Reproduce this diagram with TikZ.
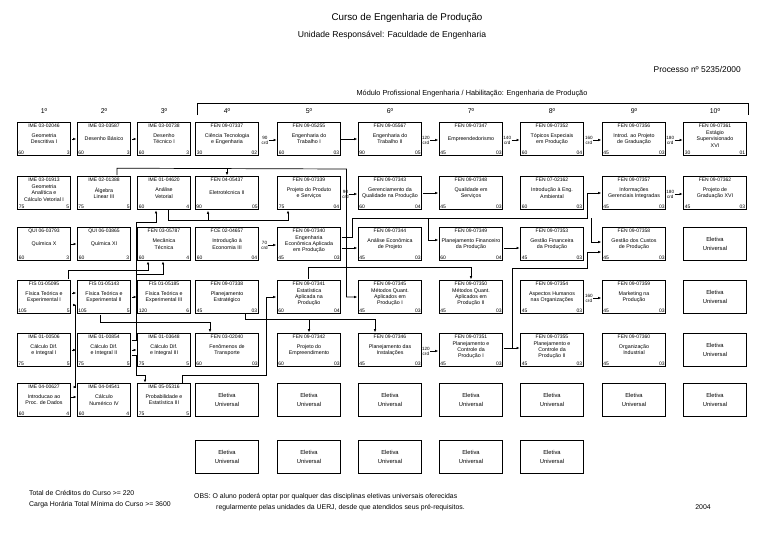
\documentclass[tikz,border=0pt]{standalone}
\usepackage{fontspec}
\setmainfont{Liberation Sans}
\usetikzlibrary{positioning,arrows.meta,calc}

% one course box: [style] name, position, code, title, hours, credits
\newcommand{\disc}[7][]{%
  \node[disc,#1] (#2) at (#3) {#5};
  \node[kode] at (#2.north) {#4};
  \node[hrs] at (#2.south west) {#6};
  \node[crd] at (#2.south east) {#7};}
% short arrow with the credit requirement
\newcommand{\crdstub}[2]{%
  \coordinate (#1-c) at ($(#1.west)+(-8.5,-1)$);
  \coordinate (#1-e) at ($(#1.west)+(-0.5,-1)$);
  \draw[dep] (#1-c) -- (#1-e);
  \node[cred] at (#1-c) {#2\\crd};}

\begin{document}
\begin{tikzpicture}[x=1pt, y=1pt,
  disc/.style={draw, line width=0.8pt, minimum width=63pt, minimum height=33pt,
    inner sep=0pt, align=center, font=\fontsize{5.3}{6.2}\selectfont},
  narrow/.style={minimum width=53pt},
  bold/.style={line width=1.6pt},
  kode/.style={anchor=north, inner sep=1.8pt, font=\fontsize{5}{6}\selectfont},
  hrs/.style={anchor=south west, inner sep=1.5pt, font=\fontsize{5}{6}\selectfont},
  crd/.style={anchor=south east, inner sep=1.5pt, font=\fontsize{5}{6}\selectfont},
  elet/.style={draw, line width=0.8pt, minimum width=63pt, minimum height=33pt,
    align=center, font=\fontsize{5.8}{8.5}\selectfont},
  cred/.style={anchor=east, inner sep=0.3pt, align=center, font=\fontsize{4.6}{5}\selectfont},
  dep/.style={-{Latex[length=3pt, width=2.6pt]}, line width=0.7pt},
  txt/.style={font=\fontsize{6.9}{11}\selectfont, inner sep=0pt}
]
\useasboundingbox (0,0) rectangle (768,-543);

% titles
\node[font=\fontsize{9.8}{12}\selectfont] (titulo) at (407,-18) {Curso de Engenharia de Produção};
\node[font=\fontsize{8.6}{12}\selectfont] (unidade) at (392,-35) {Unidade Responsável: Faculdade de Engenharia};
\node[txt, anchor=east, font=\fontsize{8.4}{9}\selectfont] (processo) at (741,-69) {Processo nº 5235/2000};
\node[txt, font=\fontsize{7.3}{9}\selectfont] (modulo) at (472,-94) {Módulo Profissional Engenharia / Habilitação: Engenharia de Produção};

% row 1
\disc[narrow,bold]{geodesc}{44,-139}{IME 03-02046}{Geometria\\Descritiva I}{60}{3}
\disc[narrow,bold]{desbas}{104,-139}{IME 03-03587}{Desenho Básico}{60}{3}
\disc[narrow]{destec}{164,-139}{IME 03-00738}{Desenho\\Técnico I}{60}{3}
\disc{cte}{227,-139}{FEN 09-07337}{Ciência Tecnologia\\e Engenharia}{30}{02}
\disc{trab1}{309,-139}{FEN 09-05255}{Engenharia do\\Trabalho I}{60}{03}
\disc[bold]{trab2}{390,-139}{FEN 09-05567}{Engenharia do\\Trabalho II}{90}{05}
\disc[bold]{empre}{471,-139}{FEN 09-07347}{Empreendedorismo}{45}{03}
\disc{topicos}{552,-139}{FEN 09-07352}{Tópicos Especiais\\em Produção}{60}{04}
\disc[bold]{introproj}{634,-139}{FEN 09-07356}{Introd. ao Projeto\\de Graduação}{45}{03}
\disc{estagio}{715,-139}{FEN 09-07361}{Estágio\\Supervisionado\\XVI}{30}{01}

% row 2
\disc[narrow]{geoana}{44,-193}{IME 03-01913}{Geometria\\Analítica e\\Cálculo Vetorial I}{75}{5}
\disc[narrow,bold]{alglin}{104,-193}{IME 02-01388}{Álgebra\\Linear III}{75}{5}
\disc[narrow]{anvet}{164,-193}{IME 01-04620}{Análise\\Vetorial}{60}{4}
\disc[bold]{eletro}{227,-193}{FEN 04-05437}{Eletrotécnica II}{90}{05}
\disc{projprod}{309,-193}{FEN 09-07339}{Projeto do Produto\\e Serviços}{75}{04}
\disc[bold]{gerqual}{390,-193}{FEN 09-07343}{Gerenciamento da\\Qualidade na Produção}{60}{04}
\disc[bold]{qualserv}{471,-193}{FEN 09-07348}{Qualidade em\\Serviços}{45}{03}
\disc{ambiental}{552,-193}{FEN 07-02162}{Introdução à Eng.\\Ambiental}{60}{03}
\disc[bold]{infoger}{634,-193}{FEN 09-07357}{Informações\\Gerenciais Integradas}{45}{03}
\disc{projgrad}{715,-193}{FEN 09-07362}{Projeto de\\Graduação XVI}{45}{03}

% row 3
\disc[narrow]{quim10}{44,-244}{QUI 06-03793}{Química X}{60}{3}
\disc[narrow]{quim11}{104,-244}{QUI 06-03865}{Química XI}{60}{3}
\disc[narrow]{mectec}{164,-244}{FEN 03-05787}{Mecânica\\Técnica}{60}{4}
\disc{economia}{227,-244}{FCE 02-04657}{Introdução à\\Economia III}{60}{04}
\disc[bold]{engecon}{309,-244}{FEN 09-07340}{Engenharia\\Econômica Aplicada\\em Produção}{45}{03}
\disc[bold]{anecon}{390,-244}{FEN 09-07344}{Análise Econômica\\de Projeto}{45}{03}
\disc[bold]{planfin}{471,-244}{FEN 09-07349}{Planejamento Financeiro\\da Produção}{60}{04}
\disc{gesfin}{552,-244}{FEN 09-07353}{Gestão Financeira\\da Produção}{45}{03}
\disc[bold]{custos}{634,-244}{FEN 09-07358}{Gestão dos Custos\\de Produção}{45}{03}

% row 4
\disc[narrow,bold]{fis1}{44,-297}{FIS 01-05095}{Física Teórica e\\Experimental I}{105}{5}
\disc[narrow,bold]{fis2}{104,-297}{FIS 01-05143}{Física Teórica e\\Experimental II}{105}{5}
\disc[narrow]{fis3}{164,-297}{FIS 01-05185}{Física Teórica e\\Experimental III}{120}{6}
\disc{planest}{227,-297}{FEN 09-07338}{Planejamento\\Estratégico}{45}{03}
\disc[bold]{estat}{309,-297}{FEN 09-07341}{Estatística\\Aplicada na\\Produção}{60}{04}
\disc[bold]{mq1}{390,-297}{FEN 09-07345}{Métodos Quant.\\Aplicados em\\Produção I}{45}{03}
\disc[bold]{mq2}{471,-297}{FEN 09-07350}{Métodos Quant.\\Aplicados em\\Produção II}{45}{03}
\disc{humanos}{552,-297}{FEN 09-07354}{Aspectos Humanos\\nas Organizações}{45}{03}
\disc[bold]{marketing}{634,-297}{FEN 09-07359}{Marketing na\\Produção}{45}{03}

% row 5
\disc[narrow,bold]{calc1}{44,-350}{IME 01-00506}{Cálculo Dif.\\e Integral I}{75}{5}
\disc[narrow,bold]{calc2}{104,-350}{IME 01-00854}{Cálculo Dif.\\e Integral II}{75}{5}
\disc[narrow]{calc3}{164,-350}{IME 01-03648}{Cálculo Dif.\\e Integral III}{75}{5}
\disc[bold]{fentrans}{227,-350}{FEN 03-02040}{Fenômenos de\\Transporte}{60}{03}
\disc[bold]{projemp}{309,-350}{FEN 09-07342}{Projeto do\\Empreendimento}{60}{03}
\disc[bold]{instal}{390,-350}{FEN 09-07346}{Planejamento das\\Instalações}{45}{03}
\disc[bold]{pcp1}{471,-350}{FEN 09-07351}{Planejamento e\\Controle da\\Produção I}{45}{03}
\disc{pcp2}{552,-350}{FEN 09-07355}{Planejamento e\\Controle da\\Produção II}{45}{03}
\disc[bold]{orgind}{634,-350}{FEN 09-07360}{Organização\\Industrial}{45}{03}

% row 6
\disc[narrow]{procdados}{44,-400}{IME 04-00627}{Introducao ao\\Proc. de Dados}{60}{4}
\disc[narrow]{calcnum}{104,-400}{IME 04-04541}{Cálculo\\Numérico IV}{60}{4}
\disc[narrow]{probest}{164,-400}{IME 05-05316}{Probabilidade e\\Estatística III}{75}{5}

% electives
\node[elet, bold] (elet1) at (715,-244) {Eletiva\\Universal};
\node[elet, bold] (elet2) at (715,-297) {Eletiva\\Universal};
\node[elet, bold] (elet3) at (715,-350) {Eletiva\\Universal};
\node[elet, bold] (elet4) at (227,-400) {Eletiva\\Universal};
\node[elet] (elet5) at (309,-400) {Eletiva\\Universal};
\node[elet, bold] (elet6) at (390,-400) {Eletiva\\Universal};
\node[elet] (elet7) at (471,-400) {Eletiva\\Universal};
\node[elet] (elet8) at (552,-400) {Eletiva\\Universal};
\node[elet] (elet9) at (634,-400) {Eletiva\\Universal};
\node[elet, bold] (elet10) at (715,-400) {Eletiva\\Universal};
\node[elet, bold] (elet11) at (227,-457) {Eletiva\\Universal};
\node[elet] (elet12) at (309,-457) {Eletiva\\Universal};
\node[elet, bold] (elet13) at (390,-457) {Eletiva\\Universal};
\node[elet, bold] (elet14) at (471,-457) {Eletiva\\Universal};
\node[elet, bold] (elet15) at (552,-457) {Eletiva\\Universal};

% direct prerequisites
\draw[dep] ([xshift=0.5pt]geodesc.east) -- ([xshift=-0.5pt]desbas.west);
\draw[dep] ([xshift=0.5pt]desbas.east) -- ([xshift=-0.5pt]destec.west);
\draw[dep] ([xshift=0.5pt]trab1.east) -- ([xshift=-0.5pt]trab2.west);
\draw[dep] ([xshift=0.5pt]gerqual.east) -- ([xshift=-0.5pt]qualserv.west);
\draw[dep] ([xshift=0.5pt]quim10.east) -- ([xshift=-0.5pt]quim11.west);
\draw[dep] ([xshift=0.5pt]fis2.east) -- ([xshift=-0.5pt]fis3.west);
\draw[dep] ([xshift=0.5pt]calc1.east) -- ([xshift=-0.5pt]calc2.west);
\draw[dep] ([xshift=0.5pt]calc2.east) -- ([xshift=-0.5pt]calc3.west);
\draw[dep] ([xshift=0.5pt,yshift=4pt]fis1.east) -- ([xshift=-0.5pt,yshift=4pt]fis2.west);
\draw[dep] ([xshift=0.5pt,yshift=3pt]procdados.east) -- ([xshift=-0.5pt,yshift=3pt]calcnum.west);
\draw[dep] ([xshift=0.5pt,yshift=-4pt]engecon.east) -- ([xshift=-0.5pt,yshift=-4pt]anecon.west);
\draw[dep] ([xshift=0.5pt,yshift=-4pt]planfin.east) -- ([xshift=-0.5pt,yshift=-4pt]gesfin.west);
\draw[dep] ([xshift=0.5pt,yshift=2pt]pcp1.east) -- ([xshift=-0.5pt,yshift=2pt]pcp2.west);

% routed prerequisites
\coordinate (c1-out) at ([xshift=4.5pt]calc1.east);
\draw[dep] (c1-out) |- ([xshift=-0.5pt,yshift=-8pt]fis2.west);
\draw[dep] (c1-out) |- ([xshift=-0.5pt,yshift=13pt]calcnum.west);

\coordinate (c2-up) at ([xshift=0.5pt,yshift=10pt]calc2.east);
\draw[dep] (c2-up) -- ++(5,0) |- ($(anvet.south)+(-8,-12.5)$) -- ($(anvet.south)+(-8,-0.5)$);
\draw[dep] (c2-up) -- ++(5,0) |- ($(mectec.south)+(-1,-13.5)$) -- ($(mectec.south)+(-1,-0.5)$);
\draw[dep] ([xshift=0.5pt,yshift=-5pt]calc2.east) -- ++(5,0) |- ($(probest.north)+(-19,7.5)$) -- ($(probest.north)+(-19,0.5)$);

\draw[dep] ($(fis1.north east)+(-2.5,0.5)$) |- ($(mectec.south)+(-16,-9.5)$) -- ($(mectec.south)+(-16,-0.5)$);
\draw[dep] ($(fis2.south)+(-4,-0.5)$) |- ($(fentrans.north)+(-17,10.5)$) -- ($(fentrans.north)+(-17,0.5)$);

\coordinate (alg-turn) at ($(alglin.north)+(13,7.5)$);
\draw[dep] ($(alglin.north)+(13,0.5)$) -- (alg-turn) -- ($(projprod.east)+(5.5,24)$) |- ([xshift=-0.5pt]mq1.west);
\draw[dep] (alg-turn -| eletro.north) -- ([yshift=0.5pt]eletro.north);

\coordinate (anv-r) at ($(projprod.south)+(-21,-10.5)$);
\draw[dep] ($(anvet.south)+(4,-0.5)$) |- (anv-r) -- ($(projprod.south)+(-21,-0.5)$);
\draw[dep] ($(eletro.south)+(-19,-10.5)$) -- ($(eletro.south)+(-19,-0.5)$);

\coordinate (eco-up) at ($(engecon.east)+(11.5,26)$);
\draw[dep] ([xshift=0.5pt,yshift=7pt]engecon.east) -| (eco-up) -| ($(planfin.west)+(-10.5,4)$) -- ($(planfin.west)+(-0.5,4)$);
\draw[dep] (eco-up) -| ($(infoger.west)+(-14.5,0)$) -- ([xshift=-0.5pt]infoger.west);
\draw[dep] ($(custos.west)+(-10.5,26)$) |- ($(custos.west)+(-0.5,2)$);
\draw[dep] ([xshift=0.5pt,yshift=2pt]pcp1.east) -- ++(9,0) |- ($(custos.west)+(-14.5,-24)$) |- ($(custos.west)+(-0.5,-8)$);

\draw[dep] ($(estat.north)+(-1,0.5)$) |- ($(mq2.north)+(0,12.5)$) -- ($(mq2.north)+(0,0.5)$);

\coordinate (pe-bot) at ($(planest.south)+(18,-5.5)$);
\draw[dep] ($(planest.south)+(18,-0.5)$) -- (pe-bot) -| ($(instal.north)+(-15,0.5)$);
\draw[dep] (pe-bot -| projemp.north) -- ([yshift=0.5pt]projemp.north);

\draw[dep] ($(probest.north)+(18,0.5)$) |- ($(estat.west)+(-10.5,-78)$) |- ([xshift=-0.5pt]estat.west);

% credit requirements
\crdstub{trab1}{90}
\crdstub{empre}{120}
\crdstub{topicos}{140}
\crdstub{introproj}{160}
\crdstub{estagio}{180}
\crdstub{gerqual}{90}
\crdstub{projgrad}{180}
\crdstub{engecon}{70}
\crdstub{marketing}{160}
\crdstub{pcp1}{120}

% notes
\node[txt, anchor=west, align=left] (totais) at (29,-499)
  {Total de Créditos do Curso >= 220\\Carga Horária Total Mínima do Curso >= 3600};
\node[txt, anchor=west, align=left] (obs) at (194,-502)
  {OBS: O aluno poderá optar por qualquer das disciplinas eletivas universais oferecidas\\
   \hspace{22pt}regularmente pelas unidades da UERJ, desde que atendidos seus pré-requisitos.};
\node[txt] (ano) at (703,-507) {2004};

% semesters and module bracket
\foreach \x/\s in {44/1,104/2,164/3,227/4,309/5,390/6,471/7,552/8,634/9,715/10}
  \node[txt] (sem\s) at (\x,-111) {\s º};
\coordinate (modl) at (197,-115);
\coordinate (modr) at (748,-115);
\draw[line width=0.7pt] (modl) -- ++(0,12) -| (modr);
\end{tikzpicture}
\end{document}
